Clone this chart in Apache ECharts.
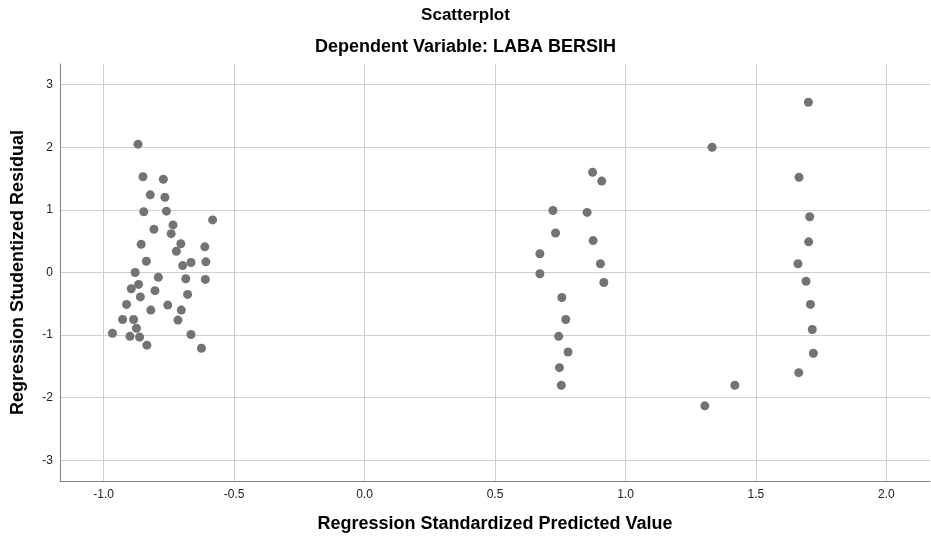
<!DOCTYPE html>
<html>
<head>
<meta charset="utf-8">
<script src="https://cdn.jsdelivr.net/npm/echarts@6/dist/echarts.min.js"></script>
<style>html,body{margin:0;padding:0;background:#fff}#c{width:931px;height:540px}</style>
</head>
<body>
<div id="c"></div>
<script>
var titleText = "Scatterplot";
var subtitleText = "Dependent Variable: LABA BERSIH";
var xAxisName = "Regression Standardized Predicted Value";
var yAxisName = "Regression Studentized Residual";
var xTicks = [-1.0, -0.5, 0.0, 0.5, 1.0, 1.5, 2.0];
var yTicks = [-3, -2, -1, 0, 1, 2, 3];

var predicted = [
  -0.868, -0.849, -0.771, -0.821, -0.765, -0.846, -0.759, -0.734, -0.582, -0.807,
  -0.741, -0.856, -0.704, -0.612, -0.721, -0.836, -0.697, -0.665, -0.608, -0.879,
  -0.790, -0.685, -0.610, -0.866, -0.894, -0.803, -0.678, -0.859, -0.912, -0.754,
  -0.819, -0.702, -0.927, -0.885, -0.715, -0.874, -0.966, -0.665, -0.899, -0.862,
  -0.834, -0.625,
  0.874, 0.909, 0.722, 0.853, 0.732, 0.876, 0.672, 0.904, 0.672, 0.917,
  0.756, 0.771, 0.744, 0.780, 0.747, 0.754,
  1.332, 1.701, 1.665, 1.706, 1.702, 1.661, 1.692, 1.709, 1.716, 1.720,
  1.664, 1.419, 1.304
];
var residual = [
  2.05, 1.53, 1.49, 1.24, 1.20, 0.97, 0.98, 0.76, 0.84, 0.69,
  0.62, 0.45, 0.46, 0.41, 0.34, 0.18, 0.11, 0.16, 0.17, 0.00,
  -0.075, -0.10, -0.11, -0.19, -0.26, -0.29, -0.35, -0.39, -0.51, -0.52,
  -0.60, -0.60, -0.75, -0.75, -0.76, -0.89, -0.97, -0.99, -1.02, -1.03,
  -1.16, -1.21,
  1.60, 1.46, 0.99, 0.96, 0.63, 0.51, 0.30, 0.14, -0.02, -0.16,
  -0.40, -0.75, -1.02, -1.27, -1.52, -1.80,
  2.00, 2.72, 1.52, 0.89, 0.49, 0.14, -0.14, -0.51, -0.91, -1.29,
  -1.60, -1.80, -2.13
];

var points = predicted.map(function (x, i) { return [x, residual[i]]; });
var font = "'Liberation Sans', Arial, sans-serif";

var chart = echarts.init(document.getElementById('c'), null, {renderer: 'canvas'});
chart.setOption({
  animation: false,
  title: [
    {text: titleText, left: 'center', top: 2,
     textStyle: {fontFamily: font, fontSize: 17, fontWeight: 'bold', color: '#000'}},
    {text: subtitleText, left: 'center', top: 33,
     textStyle: {fontFamily: font, fontSize: 18, fontWeight: 'bold', color: '#000'}}
  ],
  grid: {left: 60, right: 1, top: 64, bottom: 59, outerBoundsMode: 'none', containLabel: false},
  xAxis: {
    type: 'value', min: -1.167, max: 2.167,
    name: xAxisName, nameLocation: 'middle', nameGap: 34,
    nameTextStyle: {fontFamily: font, fontSize: 18, fontWeight: 'bold', color: '#000'},
    axisLine: {show: true, onZero: false, lineStyle: {color: '#808080', width: 1}},
    axisTick: {show: false, customValues: xTicks},
    axisLabel: {customValues: xTicks, margin: 8, fontFamily: font, fontSize: 12, color: '#222',
      formatter: function (v) { return v.toFixed(1); }},
    splitLine: {show: true, lineStyle: {color: '#cfcfcf', width: 1}}
  },
  yAxis: {
    type: 'value', min: -3.33, max: 3.33,
    name: yAxisName, nameLocation: 'middle', nameGap: 33, nameRotate: 90,
    nameTextStyle: {fontFamily: font, fontSize: 18, fontWeight: 'bold', color: '#000'},
    axisLine: {show: true, onZero: false, lineStyle: {color: '#808080', width: 1}},
    axisTick: {show: false, customValues: yTicks},
    axisLabel: {customValues: yTicks, margin: 7, fontFamily: font, fontSize: 12, color: '#222',
      formatter: function (v) { return String(Math.round(v)); }},
    splitLine: {show: true, lineStyle: {color: '#cfcfcf', width: 1}}
  },
  series: [{
    type: 'scatter',
    data: points,
    symbolSize: 9,
    itemStyle: {color: '#737373', opacity: 1},
    clip: false
  }]
});
</script>
</body>
</html>
